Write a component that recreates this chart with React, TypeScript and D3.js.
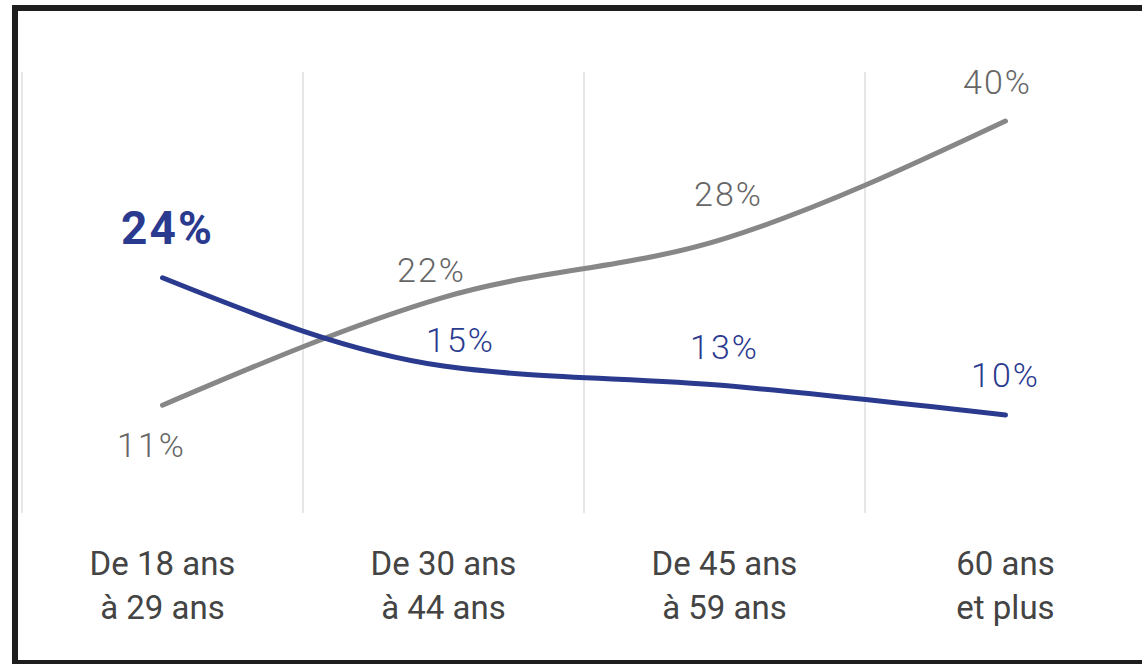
import React from "react";
import * as d3 from "d3";

const categories = ["De 18 ans|à 29 ans", "De 30 ans|à 44 ans", "De 45 ans|à 59 ans", "60 ans|et plus"];
const grayValues = [11, 22, 28, 40];
const blueValues = [24, 15, 13, 10];
const grayLabels = ["11%", "22%", "28%", "40%"];
const blueLabels = ["24%", "15%", "13%", "10%"];

const W = 1142;
const H = 664;
const GRAY = "#878787";
const BLUE = "#2a3a8f";
const FONT = "Roboto, 'Noto Sans', sans-serif";

export default function App() {
  const x = d3.scaleBand<string>().domain(categories).range([22, 1146]);
  const y = d3.scaleLinear().domain([0, 45]).range([513, 72]);
  const cx = (c: string) => (x(c) as number) + x.bandwidth() / 2;
  const line = d3
    .line<number>()
    .x((_, i) => cx(categories[i]))
    .y((d) => y(d))
    .curve(d3.curveMonotoneX);

  const grayOff = [
    { dx: -11, dy: 52 },
    { dx: -12, dy: -15 },
    { dx: 4, dy: -33 },
    { dx: -8, dy: -27 },
  ];
  const blueOff = [
    { dx: 5, dy: -34 },
    { dx: 17, dy: -14 },
    { dx: 0, dy: -27 },
    { dx: 0, dy: -28 },
  ];

  const grid = categories.map((c) => x(c) as number).concat([x.range()[1]]);

  return (
    <svg
      width={W}
      height={H}
      style={{ position: "absolute", left: 0, top: 0, background: "#fff" }}
    >
      <rect x={0} y={0} width={W} height={H} fill="#fff" />
      {grid.map((gx, i) => (
        <line key={i} x1={gx} x2={gx} y1={y(45)} y2={y(0)} stroke="#e6e6e6" strokeWidth={2} />
      ))}
      <path d={line(grayValues) || ""} fill="none" stroke={GRAY} strokeWidth={5} strokeLinecap="round" />
      <path d={line(blueValues) || ""} fill="none" stroke={BLUE} strokeWidth={5} strokeLinecap="round" />
      {grayValues.map((v, i) => (
        <text
          key={"g" + i}
          x={cx(categories[i]) + grayOff[i].dx}
          y={y(v) + grayOff[i].dy}
          textAnchor="middle"
          fontFamily={FONT}
          fontWeight={300}
          fontSize={34}
          letterSpacing={2}
          fill="#666"
        >
          {grayLabels[i]}
        </text>
      ))}
      {blueValues.map((v, i) => (
        <text
          key={"b" + i}
          x={cx(categories[i]) + blueOff[i].dx}
          y={y(v) + blueOff[i].dy}
          textAnchor="middle"
          fontFamily={FONT}
          fontWeight={i === 0 ? 700 : 300}
          fontSize={i === 0 ? 46 : 34}
          letterSpacing={2}
          fill={BLUE}
        >
          {blueLabels[i]}
        </text>
      ))}
      {categories.map((c, i) => {
        const parts = c.split("|");
        return (
          <text key={"c" + i} x={cx(c)} textAnchor="middle" fontFamily={FONT} fontSize={33} fill="#444">
            <tspan x={cx(c)} y={575}>{parts[0]}</tspan>
            <tspan x={cx(c)} y={619}>{parts[1]}</tspan>
          </text>
        );
      })}
      <rect x={15} y={8} width={1140} height={655} fill="none" stroke="#1e1e1e" strokeWidth={6} />
    </svg>
  );
}
